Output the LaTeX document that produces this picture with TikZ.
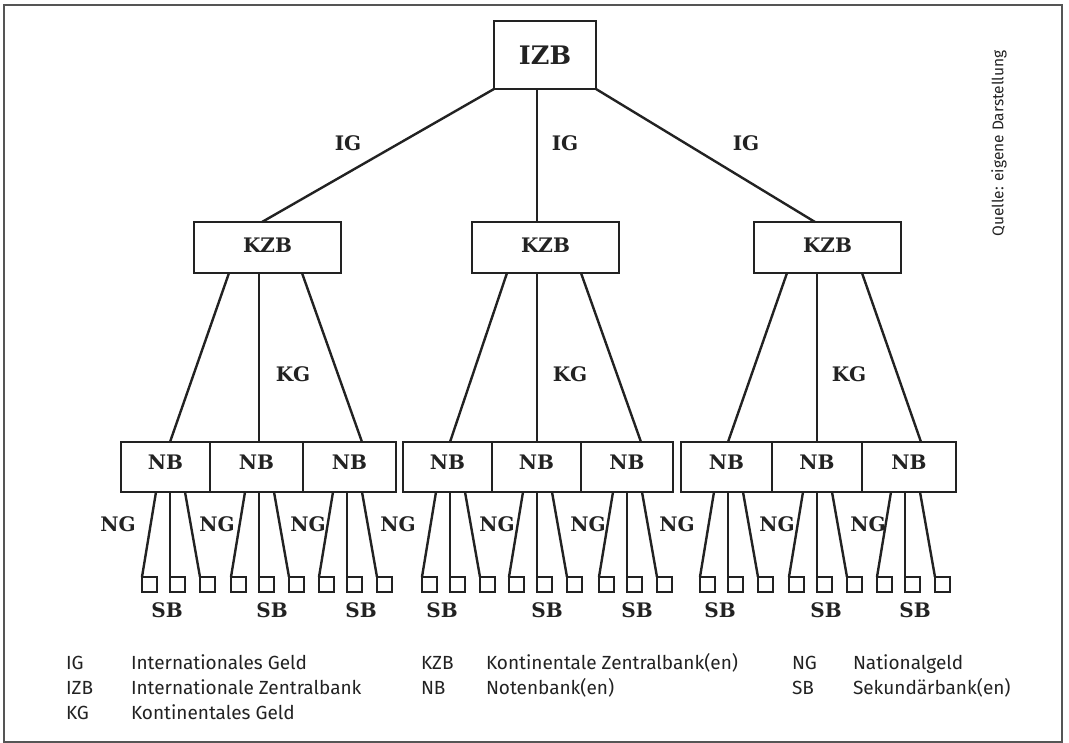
\documentclass[tikz,border=0pt]{standalone}
\usepackage{fontspec}
\setmainfont{DejaVu Serif}
\newfontfamily\labfont{DejaVu Serif}
\newfontfamily\legfont{Fira Sans}
\usetikzlibrary{calc}
\definecolor{ink}{HTML}{222222}
\definecolor{framegray}{HTML}{555555}
\begin{document}
\begin{tikzpicture}[x=1pt,y=-1pt,
  every node/.style={inner sep=0pt, outer sep=0pt},
  conn/.style={draw=ink, line width=2.4pt},
  box/.style={draw=ink, line width=2.4pt, rectangle, font=\labfont\bfseries\fontsize{20}{24}\selectfont, text=ink},
  izbbox/.style={box, minimum width=102pt, minimum height=68pt, font=\labfont\bfseries\fontsize{25.5}{30}\selectfont},
  kzbbox/.style={box, minimum width=147pt, minimum height=51pt, text height=14.6pt, text depth=5pt},
  nbbox/.style={box, minimum height=50pt, text height=14.6pt, text depth=10pt},
  sqbox/.style={draw=ink, line width=2.2pt, minimum size=15pt, anchor=north west},
  lab/.style={font=\labfont\bfseries\fontsize{20}{24}\selectfont, text=ink},
  leg/.style={font=\legfont\fontsize{19}{22}\selectfont, anchor=base west, text=ink},
]
\useasboundingbox (0,0) rectangle (1069,743);
\draw[framegray, line width=1.8pt] (4,5) rectangle (1062,742);

% top
\node[izbbox] (izb) at (545,55) {IZB};
\node[kzbbox] (kzbL) at (267.5,247.5) {KZB};
\node[kzbbox] (kzbM) at (545.5,247.5) {KZB};
\node[kzbbox] (kzbR) at (827.5,247.5) {KZB};

\draw[conn] (izb.south west) -- (262,0 |- kzbL.north);
\draw[conn] (537,0 |- izb.south) -- (537,0 |- kzbM.north);
\draw[conn] (izb.south east) -- (815,0 |- kzbR.north);

\node[lab] (igL) at (348,143) {IG};
\node[lab] (igM) at (565,143) {IG};
\node[lab] (igR) at (746,143) {IG};

% NB boxes
\node[nbbox, minimum width=89pt] (nb11) at (165.5,467) {NB};
\node[nbbox, minimum width=93pt] (nb12) at (256.5,467) {NB};
\node[nbbox, minimum width=93pt] (nb13) at (349.5,467) {NB};
\node[nbbox, minimum width=89pt] (nb21) at (447.5,467) {NB};
\node[nbbox, minimum width=89pt] (nb22) at (536.5,467) {NB};
\node[nbbox, minimum width=92pt] (nb23) at (627,467) {NB};
\node[nbbox, minimum width=91pt] (nb31) at (726.5,467) {NB};
\node[nbbox, minimum width=90pt] (nb32) at (817,467) {NB};
\node[nbbox, minimum width=94pt] (nb33) at (909,467) {NB};

% KZB -> NB
\draw[conn] (229,0 |- kzbL.south) -- (170,0 |- nb11.north);
\draw[conn] (259,0 |- kzbL.south) -- (259,0 |- nb12.north);
\draw[conn] (302,0 |- kzbL.south) -- (362,0 |- nb13.north);
\draw[conn] (507,0 |- kzbM.south) -- (450,0 |- nb21.north);
\draw[conn] (537,0 |- kzbM.south) -- (537,0 |- nb22.north);
\draw[conn] (581,0 |- kzbM.south) -- (641,0 |- nb23.north);
\draw[conn] (787,0 |- kzbR.south) -- (728,0 |- nb31.north);
\draw[conn] (817,0 |- kzbR.south) -- (817,0 |- nb32.north);
\draw[conn] (862,0 |- kzbR.south) -- (921,0 |- nb33.north);

\node[lab] (kgL) at (293,374) {KG};
\node[lab] (kgM) at (570,374) {KG};
\node[lab] (kgR) at (849,374) {KG};

% NB -> SB squares
\foreach \n/\m in {11/170,12/259,13/347,21/450,22/537,23/627,31/728,32/817,33/905}{
  \pgfmathsetmacro{\xa}{\m-14}
  \pgfmathsetmacro{\xc}{\m+15}
  \node[sqbox] (sq\n a) at (\m-28,577) {};
  \node[sqbox] (sq\n b) at (\m,577) {};
  \node[sqbox] (sq\n c) at (\m+30,577) {};
  \draw[conn] (\xa,0 |- nb\n.south) -- (sq\n a.north west);
  \draw[conn] (\m,0 |- nb\n.south) -- (sq\n b.north west);
  \draw[conn] (\xc,0 |- nb\n.south) -- (sq\n c.north west);
}

% NG labels
\foreach \x [count=\i] in {118,217,308,398,497,588,677,777,868}{
  \node[lab] (ng\i) at (\x,524) {NG};
}
% SB labels
\foreach \x [count=\i] in {167,272,361,442,547,637,720,826,915}{
  \node[lab] (sb\i) at (\x,610) {SB};
}

% source
\node[font=\legfont\fontsize{15.5}{18}\selectfont, text=ink, rotate=90] (quelle) at (999,143.5) {Quelle: eigene Darstellung};

% legend
\node[leg] (l1a) at (66,669) {IG};
\node[leg] (l1b) at (131,669) {Internationales Geld};
\node[leg] (l2a) at (66,694) {IZB};
\node[leg] (l2b) at (131,694) {Internationale Zentralbank};
\node[leg] (l3a) at (66,719) {KG};
\node[leg] (l3b) at (131,719) {Kontinentales Geld};
\node[leg] (l4a) at (421,669) {KZB};
\node[leg] (l4b) at (486,669) {Kontinentale Zentralbank(en)};
\node[leg] (l5a) at (421,694) {NB};
\node[leg] (l5b) at (486,694) {Notenbank(en)};
\node[leg] (l6a) at (792,669) {NG};
\node[leg] (l6b) at (853,669) {Nationalgeld};
\node[leg] (l7a) at (792,694) {SB};
\node[leg] (l7b) at (853,694) {Sekundärbank(en)};
\end{tikzpicture}
\end{document}
